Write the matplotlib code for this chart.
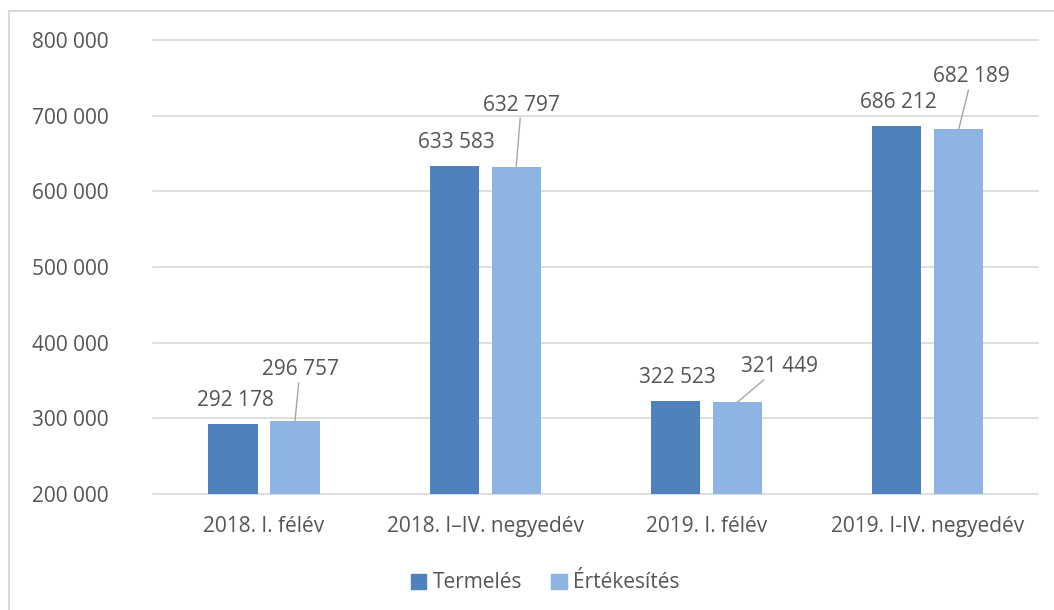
import matplotlib
matplotlib.use("Agg")
import matplotlib.pyplot as plt
from matplotlib.patches import Rectangle
import numpy as np

categories = ["2018. I. félév", "2018. I–IV. negyedév", "2019. I. félév", "2019. I-IV. negyedév"]
termeles = [292178, 633583, 322523, 686212]
ertekesites = [296757, 632797, 321449, 682189]
series_names = ["Termelés", "Értékesítés"]

# label offsets (pixels) for the Értékesítés labels, which Excel moved with leader lines
ert_offsets = [(5, -46), (5, -56), (42, -30), (13, -47)]

plt.rcParams["font.family"] = ["Open Sans", "DejaVu Sans"]
txt = "#555555"
grid = "#D9D9D9"
c1 = "#4F81BD"
c2 = "#8EB4E3"

fig = plt.figure(figsize=(10.54, 6.10), dpi=100)
ax = fig.add_axes([153.4 / 1054, 1 - 494 / 610, 885 / 1054, 454 / 610])

x = np.arange(len(categories))
w = 0.222
off = 0.14
b1 = ax.bar(x - off, termeles, w, color=c1, zorder=2)
b2 = ax.bar(x + off, ertekesites, w, color=c2, zorder=2)

ax.set_xlim(-0.5, len(categories) - 0.5)
ax.set_ylim(200000, 800000)
ax.set_yticks(range(200000, 800001, 100000))
ax.yaxis.set_major_formatter(lambda v, p: f"{int(v):,}".replace(",", " "))
ax.set_xticks(x)
ax.set_xticklabels(categories)

for s in ax.spines.values():
    s.set_visible(False)
ax.tick_params(axis="both", length=0, labelsize=15, colors=txt)
ax.tick_params(axis="y", pad=32)
ax.tick_params(axis="x", pad=16)
ax.yaxis.grid(True, color=grid, lw=1.2, zorder=0)
for gl in ax.get_ygridlines():
    gl.set_clip_on(False)

fmt = lambda v: f"{v:,}".replace(",", " ")
for rect, v in zip(b1, termeles):
    ax.annotate(fmt(v), (rect.get_x() + rect.get_width() / 2, v),
                xytext=(2, 18), textcoords="offset pixels",
                ha="center", va="baseline", fontsize=15, color=txt)
for rect, v, (dx, dy) in zip(b2, ertekesites, ert_offsets):
    ax.annotate(fmt(v), (rect.get_x() + rect.get_width() / 2, v),
                xytext=(dx, -dy), textcoords="offset pixels",
                ha="center", va="baseline", fontsize=15, color=txt,
                arrowprops=dict(arrowstyle="-", color="#A6A6A6", lw=1,
                                shrinkA=0, shrinkB=0))

handles = [Rectangle((0, 0), 1, 1, color=c1), Rectangle((0, 0), 1, 1, color=c2)]
leg = fig.legend(handles, series_names, loc="center",
                 bbox_to_anchor=(545 / 1054, 1 - 583 / 610), ncol=2,
                 frameon=False, fontsize=15, handlelength=0.75, handleheight=0.75,
                 handletextpad=0.3, columnspacing=1.4, labelcolor=txt)

fig.add_artist(Rectangle((9 / 1054, -0.1), 2, 1 - 11 / 610 + 0.1, fill=False,
                         edgecolor=grid, lw=1.5, transform=fig.transFigure))

fig.savefig("out.png", dpi=100)
